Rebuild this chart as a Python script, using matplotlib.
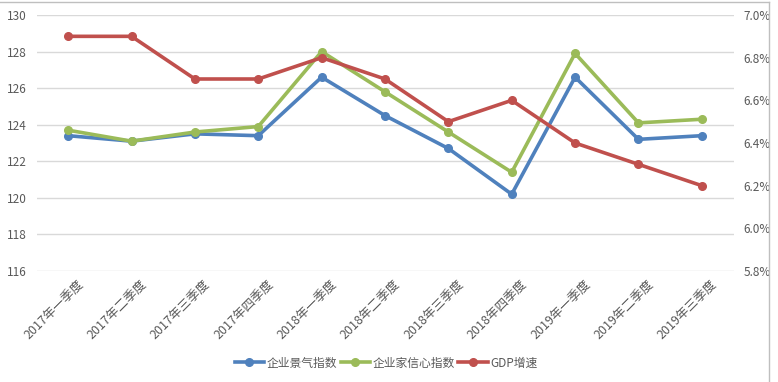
import matplotlib
matplotlib.use("Agg")
import matplotlib.pyplot as plt
from matplotlib.ticker import FuncFormatter
from matplotlib.lines import Line2D
from matplotlib.transforms import ScaledTranslation

plt.rcParams['font.family'] = ['Noto Sans CJK SC', 'DejaVu Sans']

categories = ["2017年一季度", "2017年二季度", "2017年三季度", "2017年四季度",
              "2018年一季度", "2018年二季度", "2018年三季度", "2018年四季度",
              "2019年一季度", "2019年二季度", "2019年三季度"]
business_climate = [123.4, 123.1, 123.5, 123.4, 126.6, 124.5, 122.7, 120.2, 126.6, 123.2, 123.4]
entrepreneur_conf = [123.7, 123.1, 123.6, 123.9, 128.0, 125.8, 123.6, 121.4, 127.9, 124.1, 124.3]
gdp_growth = [6.9, 6.9, 6.7, 6.7, 6.8, 6.7, 6.5, 6.6, 6.4, 6.3, 6.2]
left_ticks = [116, 118, 120, 122, 124, 126, 128, 130]
right_ticks = [5.8, 6.0, 6.2, 6.4, 6.6, 6.8, 7.0]

W, H = 778, 382
fig = plt.figure(figsize=(W / 100, H / 100), dpi=100)
ax = fig.add_axes([36.5 / W, 1 - 271 / H, (733.5 - 36.5) / W, (271 - 15) / H])
ax2 = ax.twinx()

blue, green, red = "#4F81BD", "#9BBB59", "#C0504D"
x = list(range(len(categories)))
lw, ms = 2.6, 5.5
ax.plot(x, business_climate, color=blue, lw=lw, marker='o', ms=ms, zorder=3)
ax.plot(x, entrepreneur_conf, color=green, lw=lw, marker='o', ms=ms, zorder=3)
ax2.plot(x, gdp_growth, color=red, lw=lw, marker='o', ms=ms, zorder=3)

ax.set_xlim(-0.5, len(categories) - 0.5)
ax.set_ylim(116, 130)
ax2.set_ylim(5.8, 7.0)
ax.set_yticks(left_ticks)
ax2.set_yticks(right_ticks)
ax2.yaxis.set_major_formatter(FuncFormatter(lambda v, p: f"{v:.1f}%"))
ax.grid(axis='y', color='#D9D9D9', lw=1)
ax.set_axisbelow(True)

for a in (ax, ax2):
    for s in a.spines.values():
        s.set_visible(False)
    a.tick_params(length=0, labelsize=8.5, labelcolor='#595959')
ax.tick_params(axis='y', pad=7)
ax2.tick_params(axis='y', pad=7)

ax.set_xticks(x)
ax.set_xticklabels(categories, rotation=45, ha='right', rotation_mode='anchor',
                   fontsize=9, color='#595959')
ax.tick_params(axis='x', pad=5)
offset = ScaledTranslation(9 / 100, 0, fig.dpi_scale_trans)
for lab in ax.get_xticklabels():
    lab.set_transform(lab.get_transform() + offset)

handles = [Line2D([], [], color=blue, lw=lw, marker='o', ms=ms),
           Line2D([], [], color=green, lw=lw, marker='o', ms=ms),
           Line2D([], [], color=red, lw=lw, marker='o', ms=ms)]
fig.legend(handles, ["企业景气指数", "企业家信心指数", "GDP增速"], loc='center',
           bbox_to_anchor=(386 / W, 1 - 363 / H), ncol=3, frameon=False,
           fontsize=8.5, handlelength=2.5, columnspacing=0.3, handletextpad=0.2,
           labelcolor='#595959')

# chart frame edges
fig.add_artist(Line2D([0, 769 / W], [1 - 2 / H, 1 - 2 / H], color='#BFBFBF', lw=1, transform=fig.transFigure))
fig.add_artist(Line2D([769 / W, 769 / W], [0, 1 - 2 / H], color='#BFBFBF', lw=1, transform=fig.transFigure))

fig.savefig("out.png", dpi=100)
